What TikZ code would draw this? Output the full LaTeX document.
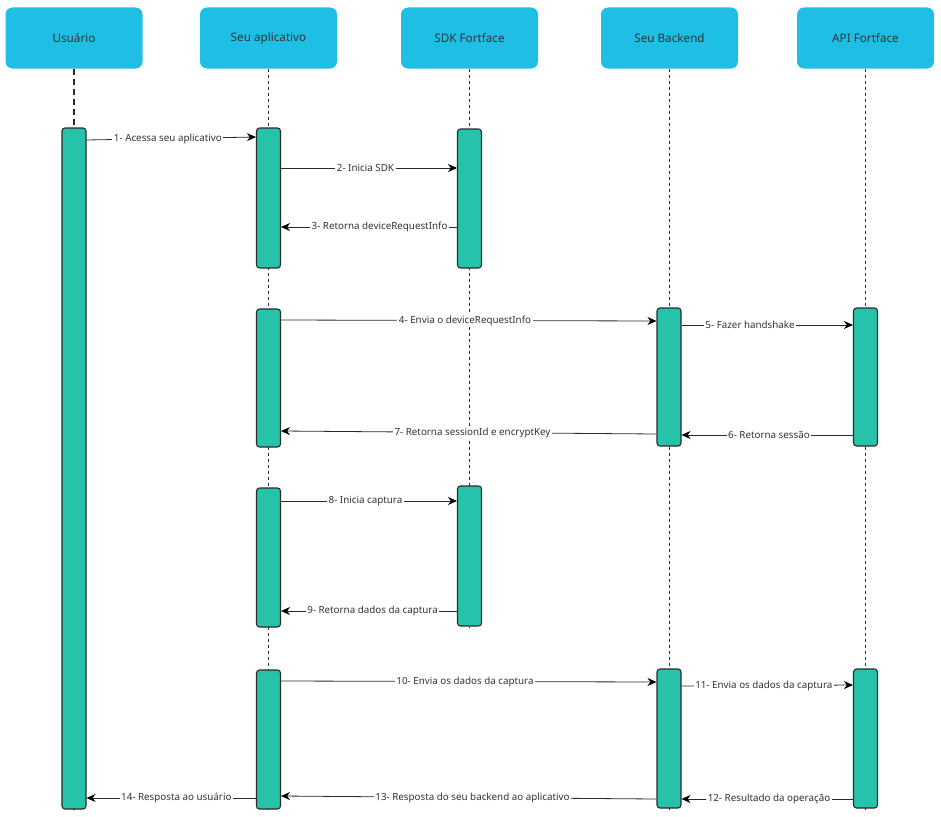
\documentclass[tikz,border=0pt]{standalone}
\usepackage{fontspec}
\setmainfont{Noto Sans}
\usetikzlibrary{arrows.meta}
\definecolor{headblue}{HTML}{1FBFE5}
\definecolor{actgreen}{HTML}{26C2A9}
\definecolor{txt}{HTML}{333333}
\definecolor{edge}{HTML}{2B2B2B}
\tikzset{
  head/.style={fill=headblue,draw=none,rounded corners=7pt,minimum width=137pt,minimum height=61pt,inner sep=0pt,text=txt,font=\fontsize{11.7pt}{13pt}\selectfont},
  act/.style={fill=actgreen,draw=edge,line width=1.1pt,rounded corners=3pt,minimum width=24pt,inner sep=0pt},
  life/.style={draw=edge,dash pattern=on 3pt off 3pt,line width=0.6pt},
  lifethick/.style={draw=edge,dash pattern=on 6pt off 4pt,line width=1.4pt},
  msg/.style={draw=edge,line width=0.8pt,-{Stealth[length=9pt,width=8pt,color=black]}},
  lbl/.style={fill=white,inner sep=1.5pt,text=txt,font=\fontsize{9.8pt}{11pt}\selectfont}
}
\begin{document}
\begin{tikzpicture}[x=1pt,y=-1pt]
\useasboundingbox (0,0) rectangle (941,816);
% headers
\node[head] (hu) at (74,38) {Usuário};
\node[head] (ha) at (268.5,38) {Seu aplicativo};
\node[head] (hs) at (469.5,38) {SDK Fortface};
\node[head] (hb) at (669.5,38) {Seu Backend};
\node[head] (hp) at (865.5,38) {API Fortface};
% lifelines
\coordinate (eu) at (74,810);
\coordinate (ea) at (268.5,810);
\coordinate (es) at (469.5,627);
\coordinate (eb) at (669.5,810);
\coordinate (ep) at (865.5,810);
\draw[lifethick] (hu.south) -- (eu);
\draw[life] (ha.south) -- (ea);
\draw[life] (hs.south) -- (es);
\draw[life] (hb.south) -- (eb);
\draw[life] (hp.south) -- (ep);
% activations
\node[act,minimum height=681pt] (au) at (74,468.5) {};
\node[act,minimum height=140pt] (a1) at (268.5,198) {};
\node[act,minimum height=139pt] (s1) at (469.5,198.5) {};
\node[act,minimum height=138pt] (a2) at (268.5,378) {};
\node[act,minimum height=138pt] (b1) at (669,377) {};
\node[act,minimum height=138pt] (p1) at (865.5,377) {};
\node[act,minimum height=139pt] (a3) at (268.5,557.5) {};
\node[act,minimum height=140pt] (s2) at (469.5,556) {};
\node[act,minimum height=139pt] (a4) at (268.5,739.5) {};
\node[act,minimum height=139pt] (b2) at (669,738.5) {};
\node[act,minimum height=139pt] (p2) at (865.5,738.5) {};
% messages
\draw[msg] (au.east |- 0,140) -- node[lbl,pos=0.48] {1- Acessa seu aplicativo} (a1.west |- 0,137);
\draw[msg] (a1.east |- 0,168) -- node[lbl,pos=0.48] {2- Inicia SDK} (s1.west |- 0,168);
\draw[msg] (s1.west |- 0,227) -- node[lbl,pos=0.44] {3- Retorna deviceRequestInfo} (a1.east |- 0,227);
\draw[msg] (a2.east |- 0,320) -- node[lbl,pos=0.49] {4- Envia o deviceRequestInfo} (b1.west |- 0,321);
\draw[msg] (b1.east |- 0,325) -- node[lbl,pos=0.4] {5- Fazer handshake} (p1.west |- 0,325);
\draw[msg] (p1.west |- 0,435) -- node[lbl,pos=0.49] {6- Retorna sessão} (b1.east |- 0,435);
\draw[msg] (b1.west |- 0,434) -- node[lbl,pos=0.49] {7- Retorna sessionId e encryptKey} (a2.east |- 0,431);
\draw[msg] (a3.east |- 0,501) -- node[lbl,pos=0.48] {8- Inicia captura} (s2.west |- 0,501);
\draw[msg] (s2.west |- 0,611) -- node[lbl,pos=0.48] {9- Retorna dados da captura} (a3.east |- 0,611);
\draw[msg] (a4.east |- 0,681) -- node[lbl,pos=0.49] {10- Envia os dados da captura} (b2.west |- 0,682);
\draw[msg] (b2.east |- 0,686) -- node[lbl,pos=0.48] {11- Envia os dados da captura} (p2.west |- 0,685);
\draw[msg] (p2.west |- 0,799) -- node[lbl,pos=0.49] {12- Resultado da operação} (b2.east |- 0,799);
\draw[msg] (b2.west |- 0,799) -- node[lbl,pos=0.49] {13- Resposta do seu backend ao aplicativo} (a4.east |- 0,796);
\draw[msg] (a4.west |- 0,798) -- node[lbl,pos=0.47] {14- Resposta ao usuário} (au.east |- 0,798);
\end{tikzpicture}
\end{document}
